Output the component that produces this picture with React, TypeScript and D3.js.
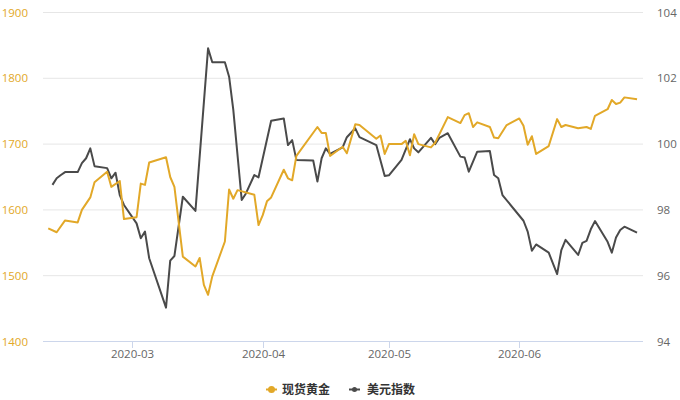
import React from "react";
import * as d3 from "d3";

const goldDates = ["2020-02-10","2020-02-12","2020-02-14","2020-02-17","2020-02-18","2020-02-20","2020-02-21","2020-02-24","2020-02-25","2020-02-27","2020-02-28","2020-03-02","2020-03-03","2020-03-04","2020-03-05","2020-03-09","2020-03-10","2020-03-11","2020-03-13","2020-03-16","2020-03-17","2020-03-18","2020-03-19","2020-03-20","2020-03-23","2020-03-24","2020-03-25","2020-03-26","2020-03-30","2020-03-31","2020-04-01","2020-04-02","2020-04-03","2020-04-06","2020-04-07","2020-04-08","2020-04-09","2020-04-14","2020-04-15","2020-04-16","2020-04-17","2020-04-20","2020-04-21","2020-04-23","2020-04-24","2020-04-28","2020-04-29","2020-04-30","2020-05-01","2020-05-04","2020-05-05","2020-05-06","2020-05-07","2020-05-08","2020-05-11","2020-05-12","2020-05-15","2020-05-18","2020-05-19","2020-05-20","2020-05-21","2020-05-22","2020-05-25","2020-05-26","2020-05-27","2020-05-29","2020-06-01","2020-06-02","2020-06-03","2020-06-04","2020-06-05","2020-06-08","2020-06-10","2020-06-11","2020-06-12","2020-06-15","2020-06-17","2020-06-18","2020-06-19","2020-06-22","2020-06-23","2020-06-24","2020-06-25","2020-06-26","2020-06-29"];
const goldValues = [1572,1566,1584,1581,1600,1619,1642,1658,1635,1644,1586,1589,1640,1638,1672,1680,1650,1635,1529,1514,1527,1486,1471,1499,1552,1631,1617,1630,1623,1577,1592,1613,1619,1661,1648,1645,1682,1726,1717,1717,1682,1696,1686,1730,1729,1708,1713,1685,1700,1700,1705,1683,1715,1700,1695,1702,1741,1732,1744,1747,1726,1733,1726,1710,1709,1729,1739,1728,1699,1712,1685,1697,1738,1726,1729,1724,1726,1723,1743,1753,1767,1761,1763,1771,1768];

const usdDates = ["2020-02-11","2020-02-12","2020-02-13","2020-02-14","2020-02-17","2020-02-18","2020-02-19","2020-02-20","2020-02-21","2020-02-24","2020-02-25","2020-02-26","2020-02-27","2020-02-28","2020-03-02","2020-03-03","2020-03-04","2020-03-05","2020-03-09","2020-03-10","2020-03-11","2020-03-13","2020-03-16","2020-03-19","2020-03-20","2020-03-23","2020-03-24","2020-03-25","2020-03-27","2020-03-28","2020-03-30","2020-03-31","2020-04-03","2020-04-06","2020-04-07","2020-04-08","2020-04-09","2020-04-13","2020-04-14","2020-04-15","2020-04-16","2020-04-17","2020-04-20","2020-04-21","2020-04-23","2020-04-24","2020-04-28","2020-04-30","2020-05-01","2020-05-04","2020-05-06","2020-05-07","2020-05-08","2020-05-11","2020-05-12","2020-05-13","2020-05-15","2020-05-18","2020-05-19","2020-05-20","2020-05-22","2020-05-25","2020-05-26","2020-05-27","2020-05-28","2020-06-02","2020-06-03","2020-06-04","2020-06-05","2020-06-08","2020-06-10","2020-06-11","2020-06-12","2020-06-15","2020-06-16","2020-06-17","2020-06-18","2020-06-19","2020-06-22","2020-06-23","2020-06-24","2020-06-25","2020-06-26","2020-06-29"];
const usdValues = [98.76,98.96,99.06,99.15,99.15,99.42,99.57,99.87,99.33,99.27,98.96,99.13,98.45,98.15,97.59,97.14,97.34,96.53,95.03,96.46,96.6,98.4,97.97,102.91,102.49,102.49,102.05,101.04,98.3,98.5,99.06,98.99,100.71,100.78,99.97,100.12,99.52,99.5,98.86,99.57,99.87,99.7,99.9,100.21,100.48,100.21,99.97,99.03,99.05,99.52,100.15,99.87,99.75,100.19,100.0,100.19,100.33,99.62,99.59,99.16,99.77,99.79,99.06,98.96,98.45,97.67,97.34,96.76,96.95,96.7,96.05,96.78,97.09,96.63,97.0,97.06,97.41,97.66,97.03,96.7,97.16,97.39,97.49,97.31];

const goldTicks = [1400, 1500, 1600, 1700, 1800, 1900];
const usdTicks = [94, 96, 98, 100, 102, 104];
const monthTicks = ["2020-03-01", "2020-04-01", "2020-05-01", "2020-06-01"];
const seriesNames = ["现货黄金", "美元指数"];

const GOLD = "#e2a828";
const DARK = "#4a4a4a";
const FONT = "'Open Sans', 'Noto Sans CJK SC', sans-serif";

export default function App() {
  const parse = d3.timeParse("%Y-%m-%d");
  const fmt = d3.timeFormat("%Y-%m");
  const x = d3
    .scaleTime()
    .domain([new Date(2020, 1, 8, 18), new Date(2020, 5, 30, 10)])
    .range([43, 643]);
  const yGold = d3.scaleLinear().domain([1400, 1900]).range([341.5, 12.5]);
  const yUsd = d3.scaleLinear().domain([94, 104]).range([341.5, 12.5]);

  const goldData = goldDates.map((d, i) => ({ d: parse(d) as Date, v: goldValues[i] }));
  const usdData = usdDates.map((d, i) => ({ d: parse(d) as Date, v: usdValues[i] }));

  const goldLine = d3
    .line<{ d: Date; v: number }>()
    .x((p) => x(p.d))
    .y((p) => yGold(p.v));
  const usdLine = d3
    .line<{ d: Date; v: number }>()
    .x((p) => x(p.d))
    .y((p) => yUsd(p.v));

  return (
    <svg
      width={680}
      height={400}
      style={{ position: "absolute", left: 0, top: 0, background: "#fff" }}
      fontFamily={FONT}
    >
      {goldTicks.map((t, i) => (
        <g key={"g" + t}>
          {i > 0 && (
            <line x1={43} x2={643} y1={yGold(t)} y2={yGold(t)} stroke="#e6e6e6" strokeWidth={1} />
          )}
          <text x={28} y={yGold(t)} dy="0.35em" textAnchor="end" fontSize={11.5} fill={GOLD}>
            {t}
          </text>
        </g>
      ))}
      {usdTicks.map((t) => (
        <text key={"u" + t} x={657} y={yUsd(t)} dy="0.35em" textAnchor="start" fontSize={11.5} fill="#666">
          {t}
        </text>
      ))}
      <line x1={43} x2={643} y1={341.5} y2={341.5} stroke="#ccd6eb" strokeWidth={1} />
      {monthTicks.map((m) => {
        const xx = Math.round(x(parse(m) as Date)) + 0.5;
        return (
          <g key={m}>
            <line x1={xx} x2={xx} y1={341.5} y2={348} stroke="#ccd6eb" strokeWidth={1} />
            <text x={xx} y={358} textAnchor="middle" fontSize={11.5} fill="#666">
              {fmt(parse(m) as Date)}
            </text>
          </g>
        );
      })}
      <path d={usdLine(usdData) || ""} fill="none" stroke={DARK} strokeWidth={2} strokeLinejoin="round" />
      <path d={goldLine(goldData) || ""} fill="none" stroke={GOLD} strokeWidth={2} strokeLinejoin="round" />

      <g>
        <line x1={266} x2={277} y1={389.5} y2={389.5} stroke={GOLD} strokeWidth={2} />
        <circle cx={271.5} cy={389.5} r={3.5} fill={GOLD} />
        <text x={282} y={389.5} dy="0.35em" fontSize={12} fontWeight="bold" fill="#333">
          {seriesNames[0]}
        </text>
        <line x1={349} x2={360} y1={389.5} y2={389.5} stroke={DARK} strokeWidth={2} />
        <circle cx={354.5} cy={389.5} r={2.5} fill={DARK} />
        <text x={367} y={389.5} dy="0.35em" fontSize={12} fontWeight="bold" fill="#333">
          {seriesNames[1]}
        </text>
      </g>
    </svg>
  );
}
